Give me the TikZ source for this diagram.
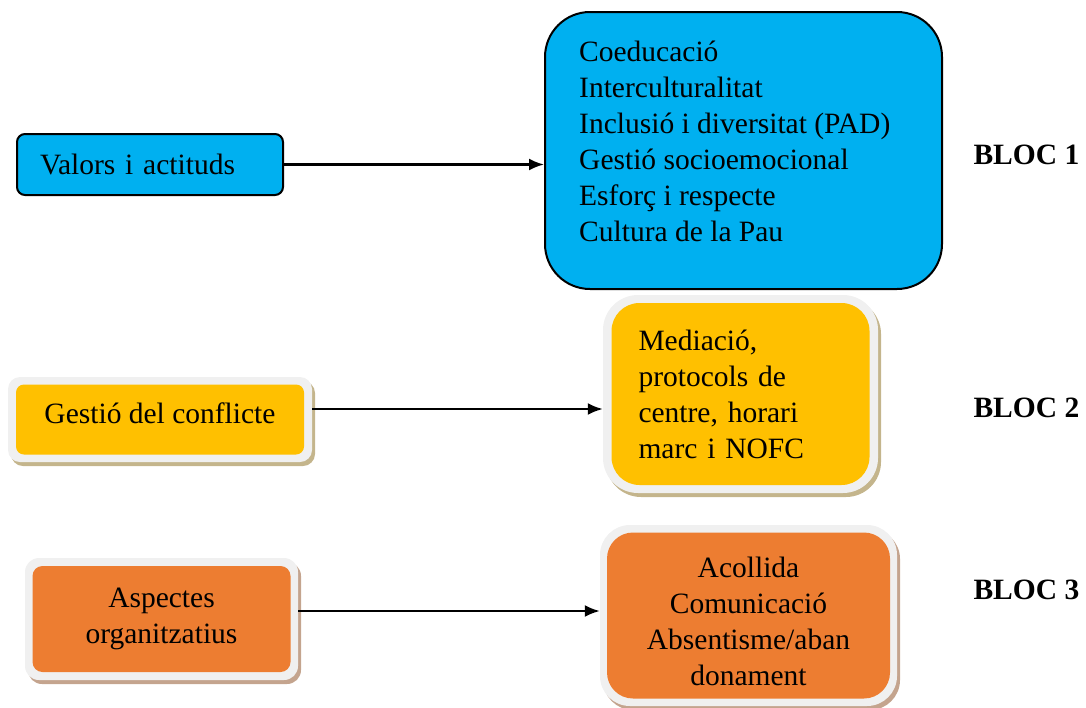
\documentclass[tikz,border=0pt]{standalone}
\usepackage{fontspec}
\setmainfont{Liberation Serif}
\usetikzlibrary{shadows,arrows.meta}
\definecolor{blocblue}{HTML}{00B0F0}
\definecolor{blocyel}{HTML}{FFC000}
\definecolor{blocora}{HTML}{ED7D31}
\definecolor{framegray}{HTML}{F0F0F0}
\definecolor{tanyel}{HTML}{C4B58C}
\definecolor{tanora}{HTML}{C4A48E}

\begin{document}
\begin{tikzpicture}[x=1pt, y=-1pt,
    font=\fontsize{29.5}{36}\selectfont,
    >={Latex[length=15pt,width=12pt]},
    bluebox/.style={draw, line width=2pt, fill=blocblue},
    outerbox/.style={fill=framegray, inner sep=0pt,
        drop shadow={shadow xshift=3pt, shadow yshift=-4pt, fill=#1, opacity=1}},
    link/.style={->, line width=2.2pt},
    bloclabel/.style={anchor=west, font=\fontsize{29.5}{36}\selectfont\bfseries}]
    \useasboundingbox (0,0) rectangle (1086,707);

    % BLOC 1
    \node[bluebox, rounded corners=8pt, minimum height=61pt, text width=220pt, inner xsep=23pt, align=left] (val) at (150,164.5) {Valors i actituds};
    \node[bluebox, rounded corners=45pt, minimum width=397pt, minimum height=277pt] (coed) at (743.5,150.5) {};
    \node[anchor=north west, align=left, inner sep=0pt] (coedtxt) at (579,41) {Coeducació\\Interculturalitat\\Inclusió i diversitat (PAD)\\Gestió socioemocional\\Esforç i respecte\\Cultura de la Pau};
    \draw[link] (val.east) -- (val.east -| coed.west);
    \node[bloclabel] (b1) at (970,155) {BLOC 1};

    % BLOC 2
    \node[outerbox=tanyel, rounded corners=12pt, minimum width=304pt, minimum height=85pt] (gestf) at (160,419.5) {};
    \node[fill=blocyel, rounded corners=8pt, minimum width=288pt, minimum height=70pt] (gest) at (gestf) {};
    \node (gesttxt) at ([yshift=6.5pt]gest) {Gestió del conflicte};
    \node[outerbox=tanyel, rounded corners=35pt, minimum width=275pt, minimum height=198pt] (medf) at (740.5,394) {};
    \node[fill=blocyel, rounded corners=28pt, minimum height=182pt, text width=204pt, inner xsep=27pt, align=left] (med) at (medf) {Mediació,\\protocols de\\centre, horari\\marc i NOFC};
    \draw[link] ([yshift=10.5pt]gestf.east) -- ([yshift=10.5pt]gestf.east -| medf.west);
    \node[bloclabel] (b2) at (970,408) {BLOC 2};

    % BLOC 3
    \node[outerbox=tanora, rounded corners=14pt, minimum width=273pt, minimum height=122pt] (aspf) at (161.5,619) {};
    \node[fill=blocora, rounded corners=10pt, minimum width=258pt, minimum height=106pt, align=center] (asp) at (aspf) {Aspectes\\organitzatius};
    \node[outerbox=tanora, rounded corners=30pt, minimum width=297pt, minimum height=181pt] (acof) at (748.5,615.5) {};
    \node[fill=blocora, rounded corners=26pt, minimum width=283pt, minimum height=166pt] (aco) at (acof) {};
    \node[align=center] (acotxt) at ([yshift=-6pt]aco) {Acollida\\Comunicació\\Absentisme/aban\\donament};
    \draw[link] ([yshift=8pt]aspf.east) -- ([yshift=8pt]aspf.east -| acof.west);
    \node[bloclabel] (b3) at (970,590) {BLOC 3};
\end{tikzpicture}
\end{document}
